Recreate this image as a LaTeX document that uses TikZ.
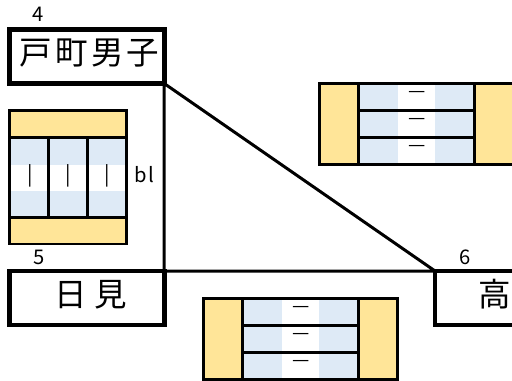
\documentclass[tikz,border=0pt]{standalone}
\usepackage{fontspec}
\newfontfamily\cjk[LetterSpace=10]{Noto Sans CJK JP}
\newfontfamily\cjkplain{Noto Sans CJK JP}
\newfontfamily\cjkwide[LetterSpace=23]{Noto Sans CJK JP}
\newfontfamily\cjkside[LetterSpace=8]{Noto Sans CJK JP}
\tikzset{
	namebox/.style={draw,line width=2.6pt,fill=white,inner sep=0,outer sep=0,minimum width=3.09cm,minimum height=1.08cm},
	nametext/.style={inner sep=0,font=\cjk\fontsize{18.5}{22}\selectfont},
	widetext/.style={inner sep=0,font=\cjkwide\fontsize{18.5}{22}\selectfont},
	smalltext/.style={inner sep=0,font=\cjkplain\fontsize{11.5}{13}\selectfont},
	wall/.style={line width=1.7pt}
}
\definecolor{sideyellow}{HTML}{FFE598}
\definecolor{laneblue}{HTML}{DEEAF6}
\begin{document}
\begin{tikzpicture}[x=.02cm,y=-.02cm]
	\useasboundingbox (0,0) rectangle (512,380);
	% stations
	\foreach \n/\x/\y in {four/87/56.5,five/87/298,six/512.3/298} \node[namebox] (\n) at (\x,\y) {};
	\draw[wall] (four.south east)--(five.north east)--(six.north west)--(four.south east);
	\node[nametext] (namefour) at (89.5,53) {戸町男子};
	\node[widetext] (namefive) at (91,295) {日見};
	\node[nametext] (namesix) at (495,294) {高};
	\foreach \n/\x/\y/\t in {numfour/38/14.5/4,numfive/39/257/5,numsix/464.7/257/6} \node[smalltext] (\n) at (\x,\y) {\t};
	% upright platform
	\fill[sideyellow] (9.5,110.5) rectangle (126.5,244);
	\fill[laneblue] (9.5,137.5) rectangle (126.5,217.5);
	\fill[white] (9.5,165) rectangle (126.5,190.7);
	\draw[wall] (9.5,110.5) rectangle (126.5,244) (9.5,137.5)--(126.5,137.5) (9.5,217.5)--(126.5,217.5);
	\draw[wall] (48.7,137.5)--(48.7,217.5) (87.5,137.5)--(87.5,217.5);
	\foreach \n/\x in {a/30,b/68.7,c/107.3} \node[smalltext] (bar\n) at (\x,176) {|};
	\node[inner sep=0,font=\cjkside\fontsize{11.5}{13}\selectfont] (side) at (144.5,175) {bl};
	% lying platforms
	\foreach \m/\px/\py in {p/319.5/83.5,q/203.7/298.7} {
		\begin{scope}[shift={(\px,\py)}]
			\fill[sideyellow] (0,0) rectangle (194,81);
			\fill[laneblue] (39,0) rectangle (155,81);
			\fill[white] (78.5,0) rectangle (115.5,81);
			\draw[wall] (0,0) rectangle (194,81) (39,0)--(39,81) (155,0)--(155,81);
			\draw[wall] (39,27)--(155,27) (39,54)--(155,54);
			\foreach \n/\y in {a/11.2,b/38.2,c/65.2} \node[inner sep=0,font=\cjkplain\fontsize{11}{13}\selectfont] (dash\m\n) at (97.8,\y) {—};
		\end{scope}
	}
\end{tikzpicture}
\end{document}
